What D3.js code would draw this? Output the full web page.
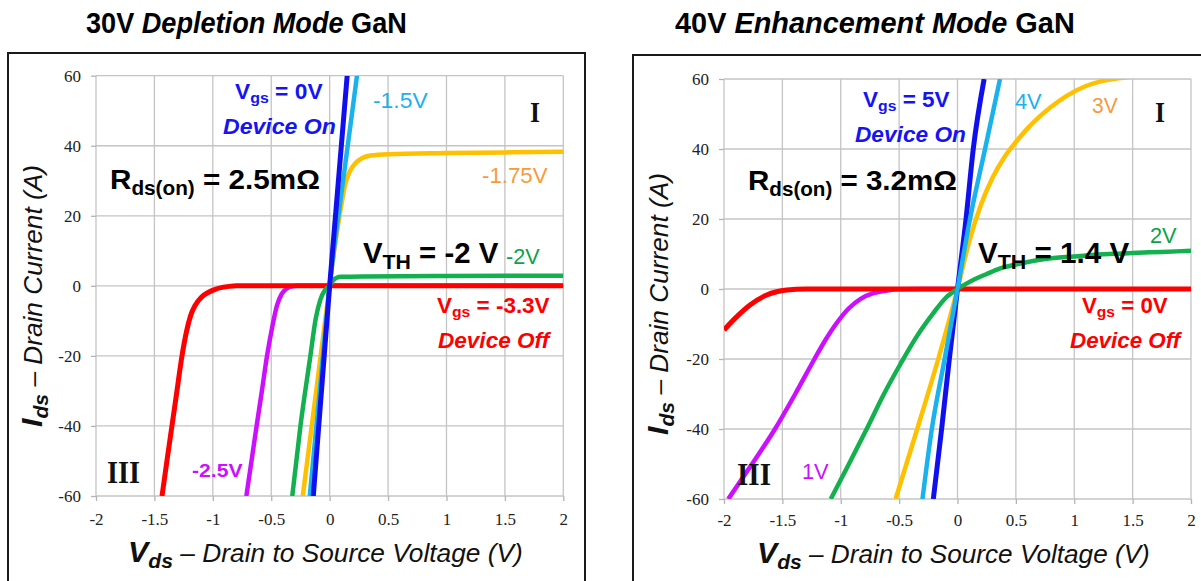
<!DOCTYPE html>
<html>
<head>
<meta charset="utf-8">
<script src="https://cdn.jsdelivr.net/npm/d3@7"></script>
<style>
  body { margin: 0; background: #fff; }
  svg { display: block; }
</style>
</head>
<body>
<svg id="chart" width="1201" height="581"></svg>
<script>
// ---------- Axis ticks (shared by both panels) ----------
const vdsTicks = [-2, -1.5, -1, -0.5, 0, 0.5, 1, 1.5, 2];
const idsTicks = [-60, -40, -20, 0, 20, 40, 60];

// ---------- 30 V depletion-mode GaN : [Vds (V), Ids (A)] per gate voltage ----------
const dep_vgs_m3v3 = [[-1.435,-60],[-1.393,-50],[-1.35,-40],[-1.307,-30],[-1.264,-20],[-1.225,-13],[-1.19,-8.5],[-1.15,-5.5],[-1.1,-3.3],[-1.04,-1.9],[-0.98,-1.0],[-0.92,-0.45],[-0.86,-0.15],[-0.8,0],[0,0],[2,0]];
const dep_vgs_m2v5 = [[-0.713,-60],[-0.669,-50],[-0.625,-40],[-0.58,-30],[-0.536,-20],[-0.49,-11.5],[-0.45,-5.5],[-0.41,-2.3],[-0.37,-0.8],[-0.33,-0.2],[-0.28,0],[0,0],[2,0]];
const dep_vgs_m2v = [[-0.32,-60],[-0.25,-40],[-0.165,-20],[-0.12,-9.5],[-0.08,-4],[-0.04,-1.2],[0,0],[0.03,1.6],[0.06,2.3],[0.1,2.6],[0.3,2.7],[1,2.8],[2,2.9]];
const dep_vgs_m1v75 = [[-0.23,-60],[-0.115,-30],[0,0],[0.035,9],[0.07,17],[0.1,23],[0.13,28.5],[0.17,32.5],[0.22,35],[0.28,36.5],[0.35,37.2],[0.5,37.6],[1,37.9],[1.5,38.1],[2,38.3]];
const dep_vgs_m1v5 = [[-0.17,-60],[-0.085,-30],[0,0],[0.115,30],[0.234,60]];
const dep_vgs_0v = [[-0.14,-60],[0,0],[0.15,60]];

// ---------- 40 V enhancement-mode GaN : [Vds (V), Ids (A)] per gate voltage ----------
const enh_vgs_0v = [[-2,-11.7],[-1.89,-7.9],[-1.777,-4.6],[-1.634,-1.7],[-1.55,-0.8],[-1.463,-0.3],[-1.3,0],[0,0],[2,0]];
const enh_vgs_1v = [[-1.963,-60],[-1.76,-50],[-1.563,-40],[-1.39,-30],[-1.225,-20],[-1.13,-14.5],[-1.03,-9.5],[-0.93,-5.5],[-0.83,-2.8],[-0.72,-1.2],[-0.6,-0.4],[-0.5,-0.1],[-0.3,0],[0,0]];
const enh_vgs_2v = [[-1.086,-60],[-0.93,-50],[-0.778,-40],[-0.63,-30],[-0.49,-21.5],[-0.35,-13.6],[-0.207,-6.9],[-0.1,-2.5],[0,0],[0.08,1.6],[0.16,3],[0.25,4.3],[0.36,5.8],[0.5,7],[0.75,8.6],[1,9.3],[1.25,9.9],[1.5,10.3],[1.75,10.6],[2,10.9]];
const enh_vgs_3v = [[-0.53,-60],[-0.345,-40],[-0.165,-20],[0,0],[0.1,13.5],[0.2,24],[0.3,31.8],[0.4,37.6],[0.5,42],[0.6,45.9],[0.7,49.2],[0.8,52],[0.935,55.2],[1.1,58],[1.28,59.7],[1.45,60.5],[1.6,61]];
const enh_vgs_4v = [[-0.3,-60],[-0.22,-40],[-0.11,-20],[0,0],[0.107,20],[0.236,40],[0.364,60]];
const enh_vgs_5v = [[-0.207,-60],[-0.136,-40],[-0.07,-20],[0,0],[0.073,20],[0.135,40],[0.228,60]];

// ---------- Colours ----------
const C = {
  blue: "#0f0ff0", sky: "#1ab2ec", gold: "#ffc000", green: "#12b04e",
  red: "#ff0000", magenta: "#cc10ff",
  orangeText: "#f89a3a", greenText: "#0ea246", blueText: "#1414f4"
};

const SANS = "'Liberation Sans', Arial, sans-serif";
const SERIF = "'Liberation Serif', 'Times New Roman', serif";

const svg = d3.select("#chart");
svg.append("rect").attr("width", 1201).attr("height", 581).attr("fill", "#fff");

// Text with optional subscripts, stretched horizontally to span width w from (x, y)
function label(g, o) {
  const size = o.size;
  const t = g.append("text")
    .style("font-family", o.family || SANS)
    .style("font-size", size + "px")
    .style("font-weight", o.weight || "normal")
    .style("font-style", o.style || "normal")
    .attr("fill", o.color || "#000");
  let shifted = 0;
  o.parts.forEach(p => {
    const ts = t.append("tspan").text(p.t);
    if (p.weight) ts.style("font-weight", p.weight);
    if (p.style) ts.style("font-style", p.style);
    if (p.size) ts.style("font-size", p.size + "px");
    if (p.sub) {
      const dy = size * (p.shift || 0.2);
      ts.style("font-size", (p.size || size * 0.7) + "px").attr("dy", dy - shifted);
      shifted = dy;
    } else if (shifted) {
      ts.attr("dy", -shifted);
      shifted = 0;
    }
  });
  const bb = t.node().getBBox();
  const sx = o.w ? o.w / bb.width : 1;
  const rot = o.rotate ? ` rotate(${o.rotate})` : "";
  t.attr("x", -bb.x).attr("transform", `translate(${o.x},${o.y})${rot} scale(${sx},1)`);
  return t;
}

function panel(cfg) {
  const g = svg.append("g");

  // outer frame
  g.append("rect")
    .attr("x", cfg.frame[0]).attr("y", cfg.frame[1])
    .attr("width", cfg.frame[2]).attr("height", cfg.frame[3])
    .attr("fill", "none").attr("stroke", "#1a1a1a").attr("stroke-width", 2);

  const x = d3.scaleLinear().domain([-2, 2]).range(cfg.xr);
  const y = d3.scaleLinear().domain([-60, 60]).range(cfg.yr);

  // grid
  const grid = g.append("g").attr("stroke", "#c4c4c4").attr("stroke-width", 1.3);
  grid.selectAll(".gx").data(vdsTicks).join("line")
    .attr("x1", d => x(d)).attr("x2", d => x(d))
    .attr("y1", y(-60)).attr("y2", y(60));
  grid.selectAll(".gy").data(idsTicks).join("line")
    .attr("x1", x(-2)).attr("x2", x(2))
    .attr("y1", d => y(d)).attr("y2", d => y(d));

  // axes
  const ax = g.append("g").attr("transform", `translate(0,${y(-60)})`)
    .call(d3.axisBottom(x).tickValues(vdsTicks).tickSize(5).tickSizeOuter(0).tickFormat(d => String(d)));
  const ay = g.append("g").attr("transform", `translate(${x(-2)},0)`)
    .call(d3.axisLeft(y).tickValues(idsTicks).tickSize(5).tickSizeOuter(0).tickFormat(d => String(d)));
  [ax, ay].forEach(a => {
    a.attr("font-family", null).attr("font-size", null);
    a.select(".domain").remove();
    a.selectAll(".tick line").attr("stroke", "#b4b4b4").attr("stroke-width", 1.3);
    a.selectAll(".tick text")
      .style("font-family", SERIF).style("font-size", "17px").attr("fill", "#222");
  });
  ax.selectAll(".tick text").attr("y", cfg.xTickY).attr("dy", 0);
  ay.selectAll(".tick text").attr("x", -15).attr("dy", "0.33em");

  // curves
  const clipId = cfg.id + "-clip";
  g.append("clipPath").attr("id", clipId).append("rect")
    .attr("x", x(-2)).attr("y", y(60))
    .attr("width", x(2) - x(-2)).attr("height", y(-60) - y(60));
  const line = d3.line().x(d => x(d[0])).y(d => y(d[1])).curve(d3.curveMonotoneX);
  const cg = g.append("g").attr("clip-path", `url(#${clipId})`).attr("fill", "none")
    .attr("stroke-linecap", "butt").attr("stroke-linejoin", "round");
  cfg.curves.forEach(c => {
    cg.append("path").datum(c.data).attr("d", line)
      .attr("stroke", c.color).attr("stroke-width", c.width || 4.5);
  });

  // title
  label(g, Object.assign({ weight: "bold", size: 29, color: "#000" }, cfg.title));

  // axis titles
  label(g, {
    parts: [{ t: "V", weight: "bold", size: 30 }, { t: "ds", sub: true, weight: "bold", size: 21, shift: 0.22 }, { t: " \u2013 Drain to Source Voltage (V)" }],
    x: cfg.xLabel[0], y: cfg.xLabel[1], w: cfg.xLabel[2], size: 26, style: "italic", color: "#111"
  });
  label(g, {
    parts: [{ t: "I", weight: "bold", size: 30 }, { t: "ds", sub: true, weight: "bold", size: 21, shift: 0.22 }, { t: " \u2013 Drain Current (A)" }],
    x: cfg.yLabel[0], y: cfg.yLabel[1], w: cfg.yLabel[2], size: 26, style: "italic", color: "#111", rotate: -90
  });

  cfg.labels.forEach(l => label(g, l));
}

const sub = (t) => ({ t, sub: true });

panel({
  id: "dep",
  frame: [8, 53, 577, 600],
  xr: [96, 563.3], yr: [496, 75.7], xTickY: 29,
  title: { parts: [{ t: "30V " }, { t: "Depletion Mode", style: "italic" }, { t: " GaN" }], x: 86, y: 33, w: 321 },
  xLabel: [128, 562, 395],
  yLabel: [42, 427, 262],
  curves: [
    { data: dep_vgs_m2v5, color: C.magenta },
    { data: dep_vgs_m3v3, color: C.red, width: 5 },
    { data: dep_vgs_m2v, color: C.green },
    { data: dep_vgs_m1v75, color: C.gold },
    { data: dep_vgs_m1v5, color: C.sky },
    { data: dep_vgs_0v, color: C.blue, width: 5 }
  ],
  labels: [
    { parts: [{ t: "V" }, sub("gs"), { t: " = 0V" }], x: 235, y: 99, w: 88, size: 22, color: C.blueText, weight: "bold" },
    { parts: [{ t: "Device On" }], x: 223, y: 134, w: 113, size: 22, color: C.blueText, weight: "bold", style: "italic" },
    { parts: [{ t: "-1.5V" }], x: 373, y: 108, w: 55, size: 22, color: C.sky },
    { parts: [{ t: "I" }], x: 530, y: 122, w: 10, size: 30, color: "#111", weight: "bold", family: SERIF },
    { parts: [{ t: "R" }, sub("ds(on)"), { t: " = 2.5m\u03A9" }], x: 110, y: 189, w: 210, size: 28, color: "#000", weight: "bold" },
    { parts: [{ t: "-1.75V" }], x: 482, y: 183, w: 66, size: 22, color: C.orangeText },
    { parts: [{ t: "V" }, { t: "TH", sub: true, size: 21 }, { t: " = -2 V" }], x: 363, y: 263, w: 136, size: 29, color: "#000", weight: "bold" },
    { parts: [{ t: "-2V" }], x: 506, y: 264, w: 34, size: 22, color: C.greenText },
    { parts: [{ t: "V" }, sub("gs"), { t: " = -3.3V" }], x: 437, y: 313, w: 113, size: 22, color: C.red, weight: "bold" },
    { parts: [{ t: "Device Off" }], x: 438, y: 348, w: 114, size: 22, color: C.red, weight: "bold", style: "italic" },
    { parts: [{ t: "III" }], x: 107, y: 483, w: 33, size: 31, color: "#111", weight: "bold", family: SERIF },
    { parts: [{ t: "-2.5V" }], x: 192, y: 477, w: 51, size: 19, color: C.magenta, weight: "bold" }
  ]
});

panel({
  id: "enh",
  frame: [633, 55, 700, 600],
  xr: [724, 1191], yr: [499, 79], xTickY: 27,
  title: { parts: [{ t: "40V " }, { t: "Enhancement Mode", style: "italic" }, { t: " GaN" }], x: 675, y: 33, w: 400 },
  xLabel: [757, 563, 393],
  yLabel: [668, 435, 262],
  curves: [
    { data: enh_vgs_1v, color: C.magenta },
    { data: enh_vgs_0v, color: C.red, width: 5 },
    { data: enh_vgs_2v, color: C.green },
    { data: enh_vgs_3v, color: C.gold },
    { data: enh_vgs_5v, color: C.blue, width: 5 },
    { data: enh_vgs_4v, color: C.sky }
  ],
  labels: [
    { parts: [{ t: "V" }, sub("gs"), { t: " = 5V" }], x: 863, y: 107, w: 87, size: 22, color: C.blueText, weight: "bold" },
    { parts: [{ t: "Device On" }], x: 855, y: 142, w: 111, size: 22, color: C.blueText, weight: "bold", style: "italic" },
    { parts: [{ t: "R" }, sub("ds(on)"), { t: " = 3.2m\u03A9" }], x: 748, y: 190, w: 209, size: 28, color: "#000", weight: "bold" },
    { parts: [{ t: "4V" }], x: 1015, y: 109, w: 27, size: 22, color: C.sky },
    { parts: [{ t: "3V" }], x: 1092, y: 113, w: 26, size: 22, color: C.orangeText },
    { parts: [{ t: "I" }], x: 1155, y: 122, w: 10, size: 30, color: "#111", weight: "bold", family: SERIF },
    { parts: [{ t: "2V" }], x: 1150, y: 243, w: 27, size: 22, color: C.greenText },
    { parts: [{ t: "V" }, { t: "TH", sub: true, size: 21 }, { t: " = 1.4 V" }], x: 978, y: 263, w: 152, size: 29, color: "#000", weight: "bold" },
    { parts: [{ t: "V" }, sub("gs"), { t: " = 0V" }], x: 1082, y: 313, w: 86, size: 22, color: C.red, weight: "bold" },
    { parts: [{ t: "Device Off" }], x: 1070, y: 348, w: 113, size: 22, color: C.red, weight: "bold", style: "italic" },
    { parts: [{ t: "III" }], x: 737, y: 485, w: 34, size: 31, color: "#111", weight: "bold", family: SERIF },
    { parts: [{ t: "1V" }], x: 802, y: 479, w: 27, size: 22, color: C.magenta }
  ]
});
</script>
</body>
</html>
